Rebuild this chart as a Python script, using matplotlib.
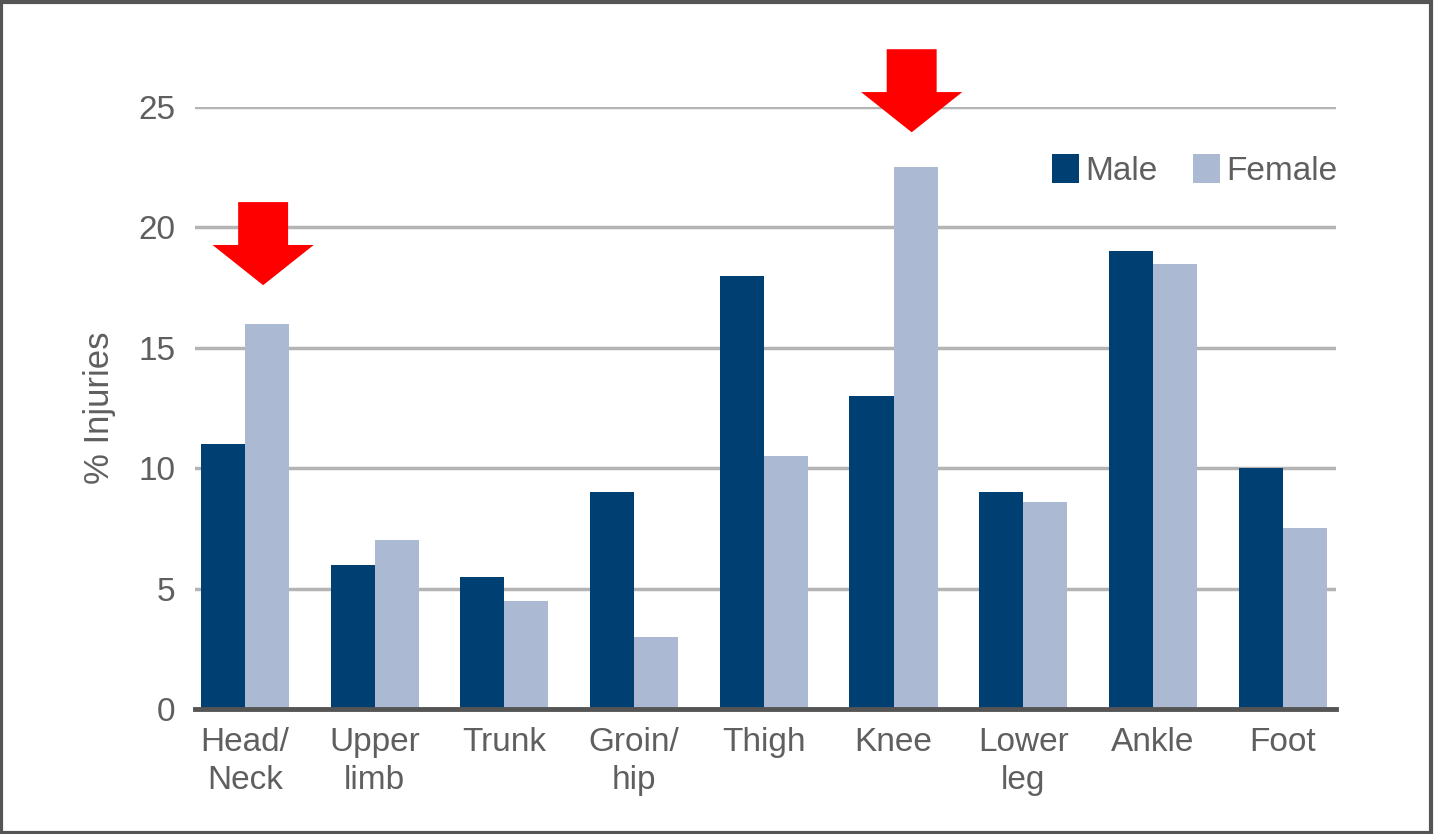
import matplotlib
matplotlib.use("Agg")
import matplotlib.pyplot as plt
from matplotlib.patches import Rectangle
import numpy as np

# Datos
categories = ["Head/\nNeck", "Upper\nlimb", "Trunk", "Groin/\nhip", "Thigh",
              "Knee", "Lower\nleg", "Ankle", "Foot"]
male = [11, 6, 5.5, 9, 18, 13, 9, 19, 10]
female = [16, 7, 4.5, 3, 10.5, 22.5, 8.6, 18.5, 7.5]
yticks = [0, 5, 10, 15, 20, 25]

# Flechas rojas: (categoría, extremo superior, punta)
arrow_cat = [0, 5]
arrow_top = [21.05, 27.4]
arrow_tip = [17.6, 23.95]

male_color = "#003f72"
female_color = "#abb9d3"
text_color = "#5f5f5f"

plt.rcParams["font.family"] = ["Liberation Sans Narrow", "Liberation Sans", "DejaVu Sans"]

fig = plt.figure(figsize=(14.34, 8.34), dpi=100)
ax = fig.add_axes([0.136, 0.1499, 0.796, 0.7218])

x = np.arange(len(categories))
w = 0.34
ax.bar(x - w / 2, male, w, color=male_color, label="Male", zorder=2)
ax.bar(x + w / 2, female, w, color=female_color, label="Female", zorder=2)

ax.set_ylim(0, 25)
ax.set_xlim(-0.385, 8.415)
ax.set_yticks(yticks)
ax.set_xticks(x)
ax.set_xticklabels(categories)
ax.tick_params(axis="both", length=0, labelsize=24, colors=text_color)
ax.tick_params(axis="y", pad=14)
ax.tick_params(axis="x", pad=13)
for lbl in ax.get_xticklabels():
    lbl.set_linespacing(1.3)

for s in ax.spines.values():
    s.set_visible(False)
ax.yaxis.grid(True, color="#b4b4b4", linewidth=2.5, zorder=0)
ax.set_axisbelow(True)
ax.axhline(0, color="#555555", linewidth=3.5, zorder=3, clip_on=False)

ax.set_ylabel("% Injuries", fontsize=25, color=text_color, labelpad=16)

ax.legend(loc="upper right", bbox_to_anchor=(1.027, 0.972), ncol=2, frameon=False,
          fontsize=24, labelcolor=text_color, handlelength=0.8, handleheight=0.95,
          handletextpad=0.2, columnspacing=1.05)

# Flechas
for c, top, tip in zip(arrow_cat, arrow_top, arrow_tip):
    xc = c + 0.14
    ax.arrow(xc, top, 0, tip - top, width=0.385, head_width=0.78,
             head_length=1.67, length_includes_head=True, color="#ff0000",
             linewidth=0, clip_on=False, zorder=5)

# Marco de la figura
fig.patches.append(Rectangle((0.001, 0.001), 0.997, 0.997, transform=fig.transFigure,
                             fill=False, edgecolor="#555555", linewidth=3))

fig.savefig("out.png", dpi=100)
